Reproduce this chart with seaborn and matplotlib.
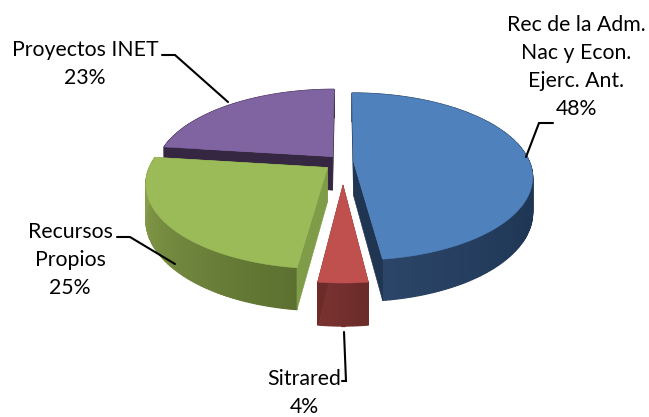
import numpy as np
import matplotlib
matplotlib.use('Agg')
import matplotlib.pyplot as plt
import seaborn as sns

# Chart data
categories = ['Rec de la Adm.\nNac y Econ.\nEjerc. Ant.', 'Sitrared', 'Recursos\nPropios', 'Proyectos INET']
shares = [48, 4, 25, 23]

# Office style colours: top face, wall (along the arc), radial face
top_colors = ['#4f81bd', '#c0504d', '#9bbb59', '#8064a2']
wall_colors = [('#1e3450', '#1e3450', '#1f3654', '#2b4568'), ('#6a2b29', '#7a3230'),
               ('#5c7030', '#8ca44e'), ('#352642', '#352642')]
side_colors = ['#1f3552', '#6a2b29', '#7f9c48', '#352642']
explode = [0.06, 0.27, 0.11, 0.09]
radius = [1.0, 0.91, 1.0, 1.0]

# fake 3d projection, in image pixels
CX, CY = 343, 162
A, B = 176, 81
K = 0.178
DEPTH = 34


def project(u, v, drop=0.0):
    s = 1 / (1 - K * v)
    return CX + A * u * s, CY + B * v * s + drop * DEPTH * s


def polar(theta, e, mid, r=1.0):
    # theta measured clockwise from the top of the pie
    u = e * np.sin(mid) + r * np.sin(theta)
    v = -e * np.cos(mid) - r * np.cos(theta)
    return u, v


sns.set_theme(style='white')
plt.rcParams['font.family'] = ['Lato', 'DejaVu Sans']

fig, ax = plt.subplots(figsize=(6.49, 4.17), dpi=100)
ax.set_position([0, 0, 1, 1])
ax.set_xlim(0, 649)
ax.set_ylim(417, 0)
ax.axis('off')

edges = np.radians(np.concatenate([[0], np.cumsum(shares)]) * 3.6)
order = [3, 2, 0, 1]  # back to front

for i in order:
    t0, t1, mid = edges[i], edges[i + 1], (edges[i] + edges[i + 1]) / 2
    e = explode[i]
    thetas = np.linspace(t0, t1, max(int(np.degrees(t1 - t0)), 8))
    au, av = polar(0, e, mid, r=0)
    ax_, ay_ = project(au, av)
    ubot, vbot = polar(thetas, e, mid, r=radius[i])

    # outer wall, shaded along the arc
    shades = sns.blend_palette(wall_colors[i], len(thetas) - 1)
    for j in range(len(thetas) - 1):
        x0, y0 = project(ubot[j], vbot[j])
        x1, y1 = project(ubot[j + 1], vbot[j + 1])
        x2, y2 = project(ubot[j + 1], vbot[j + 1], 1)
        x3, y3 = project(ubot[j], vbot[j], 1)
        ax.fill([x0, x1, x2, x3], [y0, y1, y2, y3], color=shades[j], lw=0.9)

    # radial faces
    for k in (0, -1):
        px, py = project(ubot[k], vbot[k])
        qx, qy = project(ubot[k], vbot[k], 1)
        bx, by = project(au, av, 1)
        ax.fill([ax_, px, qx, bx], [ay_, py, qy, by], color=side_colors[i], lw=0.4)

    # top face
    xs, ys = project(ubot, vbot)
    ax.fill(np.r_[ax_, xs], np.r_[ay_, ys], color=top_colors[i], lw=0.4)

# leader lines
leader = dict(color='black', lw=1.5, solid_joinstyle='miter')
ax.plot([526, 539, 553], [157, 123, 123], **leader)
ax.plot([228, 175, 162], [102, 55, 55], **leader)
ax.plot([175, 130, 117], [264, 237, 237], **leader)
ax.plot([344, 346, 342], [332, 381, 381], **leader)

# labels
label_pos = [(576, 67), (304, 393), (70, 260), (85, 64)]
for name, val, (x, y) in zip(categories, shares, label_pos):
    ax.text(x, y, f'{name}\n{val}%', ha='center', va='center', fontsize=15.3,
            color='black', linespacing=1.52)

fig.savefig('out.png', dpi=100)
